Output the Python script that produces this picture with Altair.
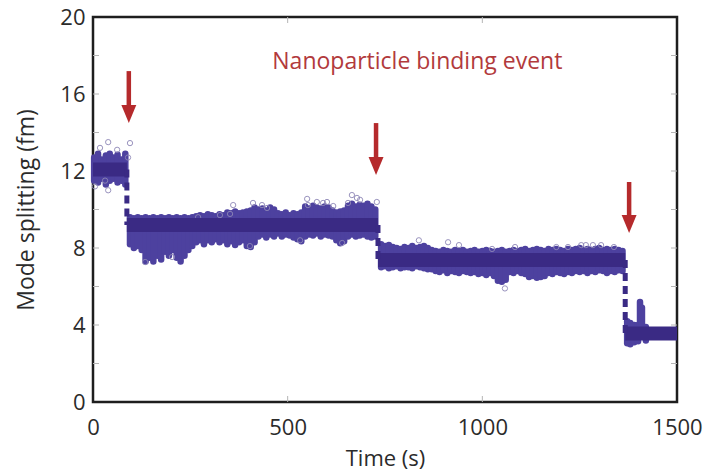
import altair as alt
import pandas as pd

# ---------------- data ----------------
# step levels (fitted mode splitting) : start, end, level
step_start = [0, 87, 732, 1367]
step_end = [87, 732, 1367, 1500]
step_level = [12.08, 9.19, 7.38, 3.56]

# vertical transitions (dotted)
jump_x = [87, 732, 1367]
jump_from = [12.08, 9.19, 7.38]
jump_to = [9.19, 7.38, 3.56]

# measurement cloud envelope (time, lower, upper)
cloudA_t = [3, 13, 23, 33, 43, 53, 63, 73, 83]
cloudA_lo = [11.5, 11.4, 11.6, 11.3, 11.5, 11.6, 11.4, 11.5, 11.3]
cloudA_hi = [12.7, 12.9, 12.6, 12.8, 12.9, 12.7, 12.85, 12.6, 12.9]

cloudB_t = list(range(95, 726, 10))
cloudB_lo = [8.2, 8.0, 8.1, 7.9, 7.3, 7.5, 7.3, 7.6, 7.4, 7.8, 7.6, 7.9, 7.5, 7.3, 7.6, 7.9,
             8.1, 8.3, 8.4, 8.2, 8.4, 8.3, 8.45, 8.3, 8.4, 8.2, 8.35, 8.15, 8.3, 8.4, 8.1, 8.05,
             8.3, 8.6, 8.7, 8.55, 8.7, 8.6, 8.75, 8.6, 8.7, 8.65, 8.55, 8.45, 8.35, 8.6, 8.7, 8.65,
             8.75, 8.6, 8.7, 8.65, 8.6, 8.4, 8.25, 8.35, 8.6, 8.7, 8.6, 8.65, 8.7, 8.6, 8.55, 8.6]
cloudB_hi = [9.6, 9.55, 9.6, 9.55, 9.6, 9.55, 9.6, 9.55, 9.6, 9.55, 9.6, 9.55, 9.6, 9.55, 9.6, 9.55,
             9.6, 9.65, 9.7, 9.65, 9.75, 9.7, 9.65, 9.75, 9.7, 9.85, 9.8, 9.9, 9.8, 9.85, 9.9, 9.95,
             10.1, 10.0, 10.05, 9.95, 10.1, 10.0, 9.8, 9.75, 9.85, 9.7, 9.8, 9.75, 9.85, 10.15, 10.05, 10.2,
             10.1, 10.05, 10.15, 10.1, 9.95, 9.85, 9.9, 9.95, 10.2, 10.3, 10.15, 10.25, 10.2, 10.3, 10.15, 10.0]

cloudC_t = list(range(740, 1361, 10))
cloudC_lo = [7.0, 7.05, 6.95, 7.0, 7.05, 6.95, 7.0, 7.0, 6.95, 7.05, 7.0, 6.95, 6.9,
             6.9, 6.8, 6.75, 6.85, 6.7, 6.8, 6.75, 6.7, 6.8, 6.75,
             6.7, 6.75, 6.65, 6.7, 6.6, 6.7, 6.55,
             6.3, 6.25, 6.35,
             6.75, 6.7, 6.8, 6.7, 6.65,
             6.5, 6.55, 6.45, 6.5, 6.55,
             6.7, 6.65, 6.75, 6.7, 6.65, 6.75, 6.7,
             6.8, 6.75, 6.8, 6.7, 6.8, 6.75, 6.85, 6.8, 6.7, 6.8, 6.75, 6.85, 6.8]
cloudC_hi = [8.2, 8.1, 8.15, 8.05,
             8.0, 7.95, 8.05, 8.0,
             8.1, 8.0, 8.05, 8.1, 8.0,
             7.9, 7.85, 7.8, 7.9, 7.85, 7.8, 7.9,
             7.85, 7.9, 7.8, 7.85, 7.9, 7.8, 7.85, 7.9, 7.85, 7.8, 7.85, 7.9, 7.8, 7.85, 7.9, 7.85,
             7.9, 7.95, 7.85, 7.9, 7.95, 7.9, 7.85, 7.95, 7.9, 7.95, 7.9, 7.85, 7.95, 7.9, 7.95, 8.0,
             7.9, 7.95, 7.9, 7.95, 8.0, 7.9, 7.95, 7.9, 7.95, 7.9, 7.85]

cloudD_t = [1372, 1380, 1390, 1400, 1405, 1410, 1420]
cloudD_lo = [3.05, 3.0, 3.1, 3.15, 3.9, 4.0, 3.2]
cloudD_hi = [4.2, 4.1, 4.0, 4.0, 5.2, 4.9, 3.9]

# isolated (open circle) samples
out_t = [39, 95, 90, 62, 18, 5, 39, 31,
         360, 411, 434, 447, 550, 552, 575, 591, 601, 617, 665, 678, 686, 655, 729, 326, 352, 270,
         203, 134, 403, 640, 532,
         837, 912, 940, 1058, 1084, 1190, 1254, 1266, 1284, 1305, 1338, 1220, 1025]
out_v = [13.5, 13.45, 12.7, 13.1, 13.2, 11.2, 11.0, 11.5,
         10.23, 10.34, 10.23, 10.08, 10.55, 10.23, 10.39, 10.34, 10.39, 10.18, 10.75, 10.6, 10.5, 10.34, 10.39, 9.71, 9.77, 9.6,
         7.53, 7.27, 8.1, 8.26, 8.4,
         8.4, 8.3, 8.15, 5.9, 8.05, 8.05, 8.15, 8.15, 8.15, 8.15, 8.05, 8.05, 7.95]

# annotation arrows (time, top of shaft, arrow-head centre)
arrow_t = [92, 727, 1377]
arrow_top = [17.19, 14.49, 11.43]
arrow_head = [14.96, 12.26, 9.25]
label_text = ["Nanoparticle binding event"]
label_t = [833]
label_v = [17.3]

x_ticks = [0, 500, 1000, 1500]
y_ticks = [0, 4, 8, 12, 16, 20]
y_minor = [2, 4, 6, 8, 10, 12, 14, 16, 18]
x_minor = [500, 1000]

# ---------------- tables ----------------
steps = pd.DataFrame({"x": step_start, "x2": step_end, "y": step_level})
jumps = pd.DataFrame({"x": jump_x, "y": jump_from, "y2": jump_to})
cloud = pd.DataFrame({
    "x": cloudA_t + cloudB_t + cloudC_t + cloudD_t,
    "y": cloudA_lo + cloudB_lo + cloudC_lo + cloudD_lo,
    "y2": cloudA_hi + cloudB_hi + cloudC_hi + cloudD_hi,
})
outl = pd.DataFrame({"x": out_t, "y": out_v})
arrows = pd.DataFrame({"x": arrow_t, "y": arrow_top, "y2": arrow_head, "h": arrow_head})
label = pd.DataFrame({"x": label_t, "y": label_v, "t": label_text})
ymin = pd.DataFrame({"y": y_minor})
xmin = pd.DataFrame({"x": x_minor})

W, H = 584, 385
FONT = "Open Sans"
TXT = "#2b2b2b"
xs = alt.Scale(domain=[0, 1500], nice=False, zero=False)
ys = alt.Scale(domain=[0, 20], nice=False, zero=False)

xaxis = alt.Axis(values=x_ticks, format="d", title="Time (s)", grid=False, ticks=False, domain=False,
                 labelFlush=False, labelPadding=15, labelFontSize=22, labelFont=FONT,
                 labelColor=TXT, titleFont=FONT, titleFontSize=22, titleFontWeight="normal",
                 titleColor=TXT, titleY=56, titleBaseline="middle")
yaxis = alt.Axis(values=y_ticks, format="d", title="Mode splitting (fm)", grid=False, ticks=False,
                 domain=False, labelPadding=8, labelFontSize=22, labelFont=FONT, labelColor=TXT,
                 titleFont=FONT, titleFontSize=23, titleFontWeight="normal", titleColor=TXT,
                 titleX=-67, titleY=H / 2, titleAlign="center", titleBaseline="middle", titleAngle=270)


def X(f):
    return alt.X(f, type="quantitative", scale=xs, axis=xaxis)


def Y(f):
    return alt.Y(f, type="quantitative", scale=ys, axis=yaxis)


TICK = "#b5b5b5"
left_ticks = alt.Chart(ymin).mark_rule(color=TICK, strokeWidth=1).encode(
    x=alt.value(0), x2=alt.value(6), y=Y("y"))
right_ticks = alt.Chart(ymin).mark_rule(color=TICK, strokeWidth=1).encode(
    x=alt.value(W - 6), x2=alt.value(W), y=Y("y"))
bottom_ticks = alt.Chart(xmin).mark_rule(color=TICK, strokeWidth=1).encode(
    x=X("x"), y=alt.value(H - 6), y2=alt.value(H))
top_ticks = alt.Chart(xmin).mark_rule(color=TICK, strokeWidth=1).encode(
    x=X("x"), y=alt.value(0), y2=alt.value(6))

cloud_layer = alt.Chart(cloud).mark_rule(color="#4d419f", strokeWidth=6.5, strokeCap="round",
                                         opacity=1).encode(x=X("x"), y=Y("y"), y2="y2")
out_layer = alt.Chart(outl).mark_point(shape="circle", filled=False, color="#8f88b8",
                                       size=28, strokeWidth=1, opacity=0.9).encode(x=X("x"), y=Y("y"))
step_layer = alt.Chart(steps).mark_rule(color="#3a2a84", strokeWidth=14, strokeCap="butt").encode(
    x=X("x"), x2="x2", y=Y("y"))
jump_layer = alt.Chart(jumps).mark_rule(color="#3a2a84", strokeWidth=5, strokeDash=[8, 5],
                                        strokeCap="butt").encode(x=X("x"), y=Y("y"), y2="y2")

RED = "#b52a2c"
shaft = alt.Chart(arrows).mark_rule(color=RED, strokeWidth=4.5).encode(x=X("x"), y=Y("y"), y2="y2")
head = alt.Chart(arrows).mark_point(shape="M-0.83,-1L0.83,-1L0,1Z", filled=True, color=RED,
                                    size=324, opacity=1, strokeWidth=0).encode(x=X("x"), y=Y("h"))
text = alt.Chart(label).mark_text(color="#b23a3c", font=FONT, fontSize=23, align="center",
                                  baseline="alphabetic").encode(x=X("x"), y=Y("y"), text="t:N")

chart = alt.layer(
    left_ticks, right_ticks, bottom_ticks, top_ticks,
    cloud_layer, out_layer, step_layer, jump_layer, shaft, head, text
).properties(
    width=W, height=H,
    background="white",
    padding={"left": 93, "top": 17, "right": 32, "bottom": 72},
    autosize=alt.AutoSizeParams(type="none"),
).configure_view(
    stroke="#1e1e1e", strokeWidth=2.5
)

chart.save("out.html", embed_options={"renderer": "svg", "actions": False})
